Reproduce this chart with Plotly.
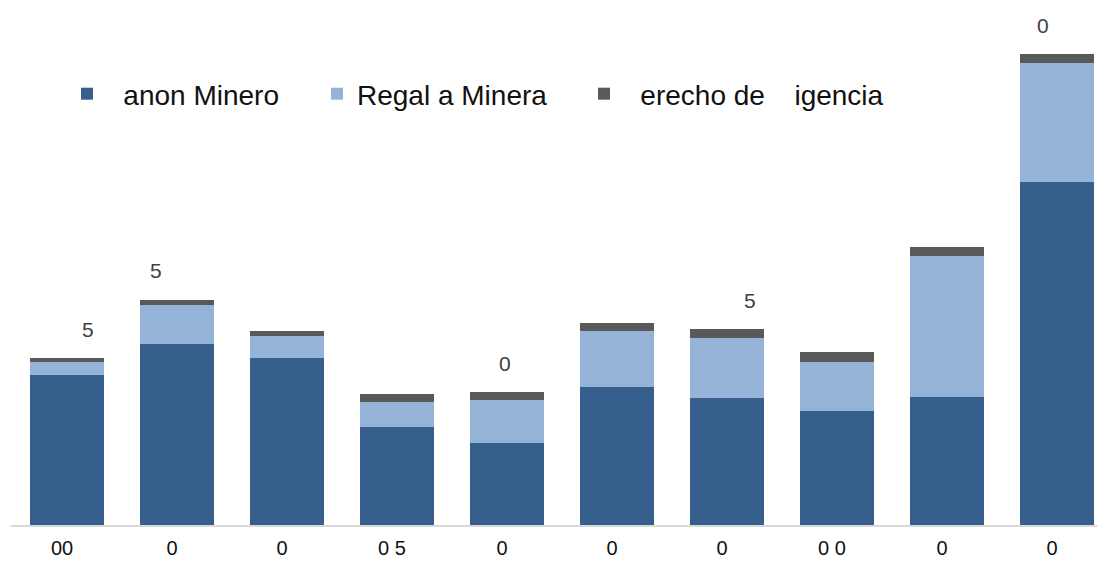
import plotly.graph_objects as go

# Category tick labels (as rendered) and stacked segment values
tick_labels = ["00", "0", "0", "0 5", "0", "0", "0", "0 0", "0", "0"]
canon = [150.0, 181.3, 166.7, 97.7, 81.7, 138.0, 127.0, 114.0, 128.3, 343.0]
regalia = [13.3, 38.7, 22.3, 25.6, 43.3, 56.3, 60.3, 49.3, 140.7, 119.0]
derecho = [3.7, 5.3, 5.3, 7.4, 7.7, 7.4, 8.7, 9.4, 9.0, 9.0]

# Labels printed above selected bars: (bar index, text, horizontal shift in px)
top_labels = [(0, "5", 21), (1, "5", -21), (4, "0", -2), (6, "5", 23), (9, "0", -14)]

series_names = ["\u2002\u200aanon Minero", "Regal a Minera", "\u2002\u200aerecho de\u00a0\u2002\u00a0igencia"]
colors = ["#365F8E", "#95B3D7", "#595959"]

FONT = "Liberation Sans, Arial, sans-serif"
x = list(range(len(tick_labels)))

fig = go.Figure()
for i, (name, vals, col) in enumerate(zip(series_names, [canon, regalia, derecho], colors)):
    fig.add_trace(go.Bar(
        x=x, y=vals, name=name, marker=dict(color=col, line=dict(width=0)),
        legend="legend" if i == 0 else f"legend{i + 1}",
    ))

totals = [a + b + c for a, b, c in zip(canon, regalia, derecho)]
for idx, txt, shift in top_labels:
    fig.add_annotation(x=idx, y=totals[idx], text=txt, showarrow=False,
                       xshift=shift, yshift=29, yanchor="middle",
                       font=dict(family=FONT, size=21, color="#404040"))

W, H = 1097, 561
ML, MB = 11, 36
plot_w = W - ML
plot_h = H - MB
CAT_PX = 110.0


def px_x(p):
    return (p - ML) / plot_w


def px_y(p):
    return (plot_h - p) / plot_h


legend_style = dict(orientation="h", font=dict(family=FONT, size=28, color="#111111"),
                    bgcolor="rgba(0,0,0,0)", borderwidth=0, yanchor="middle",
                    xanchor="left", y=px_y(94), itemclick=False)

x0 = -0.5 - 1.0 / CAT_PX
fig.update_layout(
    width=W, height=H,
    margin=dict(l=ML, r=0, t=0, b=MB, autoexpand=False),
    barmode="stack", bargap=0.336,
    plot_bgcolor="white", paper_bgcolor="white",
    showlegend=True,
    legend=dict(x=px_x(88 - 21), **legend_style),
    legend2=dict(x=px_x(338 - 21), **legend_style),
    legend3=dict(x=px_x(605 - 21), **legend_style),
    xaxis=dict(range=[x0, x0 + plot_w / CAT_PX], tickvals=x, ticktext=tick_labels,
               showgrid=False, zeroline=False, showline=True, linecolor="#D9D9D9",
               linewidth=1.5, ticks="", ticklabelstandoff=4, ticklabelshift=-5,
               automargin=False,
               tickfont=dict(family=FONT, size=20, color="#111111")),
    yaxis=dict(range=[0, plot_h], visible=False, showgrid=False, zeroline=False,
               automargin=False),
)

fig.write_html("out.html")
